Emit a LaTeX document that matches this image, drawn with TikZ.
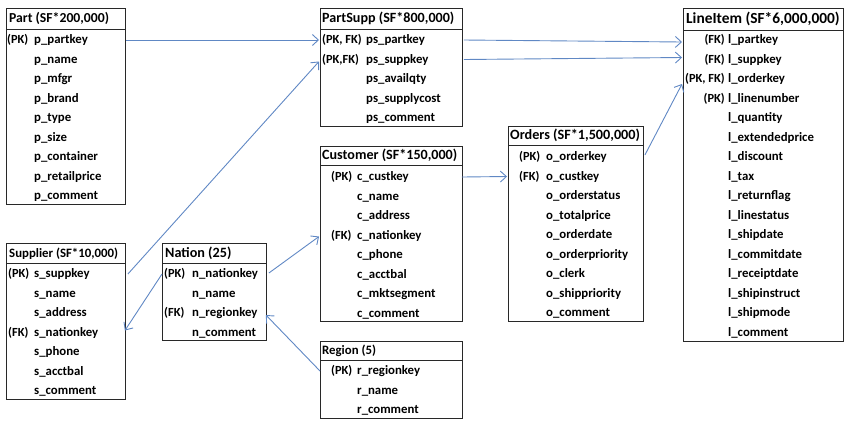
\documentclass[tikz,border=0pt]{standalone}
\usepackage{fontspec}
\setmainfont{Carlito}
\usetikzlibrary{arrows.meta}
\definecolor{linkblue}{RGB}{96,136,196}
\definecolor{boxline}{RGB}{40,40,40}
\tikzset{
  tbl/.style={draw=boxline, line width=0.9pt, inner sep=0pt, anchor=north west, fill=white},
  hdr/.style={draw=boxline, line width=0.9pt},
  ttl/.style={anchor=west, inner sep=0pt, text height=10pt, text depth=2pt},
  fld/.style={anchor=west, inner sep=0pt, text height=9.5pt, text depth=2pt, font=\bfseries\fontsize{12.8}{14}\selectfont},
  key/.style={anchor=west, inner sep=0pt, text height=9.5pt, text depth=2pt, font=\bfseries\fontsize{12.4}{14}\selectfont},
  lnk/.style={draw=linkblue, line width=0.9pt, -{Straight Barb[length=6pt,width=11pt,line width=0.9pt]}}
}
\begin{document}
\begin{tikzpicture}[x=1pt,y=-1pt]
\useasboundingbox (0,0) rectangle (850,424);

% ---------- Part ----------
\node[tbl, minimum width=119pt, minimum height=196pt] (part) at (6,8) {};
\draw[hdr] ([yshift=-21pt]part.north west) -- ([yshift=-21pt]part.north east);
\node[ttl, font=\bfseries\fontsize{13.7}{15}\selectfont] (partT) at (9,18.5) {Part (SF*200,000)};
\node[key] (paK0) at (7,40) {(PK)};
\foreach \f [count=\i from 0] in {p\_partkey,p\_name,p\_mfgr,p\_brand,p\_type,p\_size,p\_container,p\_retailprice,p\_comment}
  \node[fld] (pa\i) at (34,{40+19.5*\i}) {\f};

% ---------- PartSupp ----------
\node[tbl, minimum width=142pt, minimum height=118pt] (partsupp) at (320,8) {};
\draw[hdr] ([yshift=-21pt]partsupp.north west) -- ([yshift=-21pt]partsupp.north east);
\node[ttl, font=\bfseries\fontsize{14.1}{16}\selectfont] (partsuppT) at (322,18.5) {PartSupp (SF*800,000)};
\node[key] (psK0) at (322,40) {(PK, FK)};
\node[key] (psK1) at (322,59.5) {(PK,FK)};
\foreach \f [count=\i from 0] in {ps\_partkey,ps\_suppkey,ps\_availqty,ps\_supplycost,ps\_comment}
  \node[fld] (ps\i) at (366,{40+19.5*\i}) {\f};

% ---------- LineItem ----------
\node[tbl, minimum width=160pt, minimum height=333pt] (lineitem) at (683,8) {};
\draw[hdr] ([yshift=-22pt]lineitem.north west) -- ([yshift=-22pt]lineitem.north east);
\node[ttl, font=\bfseries\fontsize{15.4}{17}\selectfont] (lineitemT) at (686,19) {LineItem (SF*6,000,000)};
\foreach \f [count=\i from 0] in {l\_partkey,l\_suppkey,l\_orderkey,l\_linenumber,l\_quantity,l\_extendedprice,l\_discount,l\_tax,l\_returnflag,l\_linestatus,l\_shipdate,l\_commitdate,l\_receiptdate,l\_shipinstruct,l\_shipmode,l\_comment}
  \node[fld] (li\i) at (728,{40+19.5*\i}) {\f};
\node[key, anchor=east] (liK0) at (725,40) {(FK)};
\node[key, anchor=east] (liK1) at (725,59.5) {(FK)};
\node[key, anchor=east] (liK2) at (725,79) {(PK, FK)};
\node[key, anchor=east] (liK3) at (725,98.5) {(PK)};

% ---------- Orders ----------
\node[tbl, minimum width=135pt, minimum height=195pt] (orders) at (508,126) {};
\draw[hdr] ([yshift=-19pt]orders.north west) -- ([yshift=-19pt]orders.north east);
\node[ttl, font=\bfseries\fontsize{14.2}{16}\selectfont] (ordersT) at (510,135.5) {Orders (SF*1,500,000)};
\node[key] (oK0) at (519,157) {(PK)};
\node[key] (oK1) at (519,176.5) {(FK)};
\foreach \f [count=\i from 0] in {o\_orderkey,o\_custkey,o\_orderstatus,o\_totalprice,o\_orderdate,o\_orderpriority,o\_clerk,o\_shippriority,o\_comment}
  \node[fld] (o\i) at (546,{157+19.5*\i}) {\f};

% ---------- Customer ----------
\node[tbl, minimum width=142pt, minimum height=175pt] (customer) at (320,146) {};
\draw[hdr] ([yshift=-19pt]customer.north west) -- ([yshift=-19pt]customer.north east);
\node[ttl, font=\bfseries\fontsize{14.1}{16}\selectfont] (customerT) at (322,155.5) {Customer (SF*150,000)};
\node[key] (cK0) at (331,177) {(PK)};
\node[key] (cK3) at (331,235.5) {(FK)};
\foreach \f [count=\i from 0] in {c\_custkey,c\_name,c\_address,c\_nationkey,c\_phone,c\_acctbal,c\_mktsegment,c\_comment}
  \node[fld] (c\i) at (357,{177+19.5*\i}) {\f};

% ---------- Region ----------
\node[tbl, minimum width=142pt, minimum height=77pt] (region) at (320,341) {};
\draw[hdr] ([yshift=-19pt]region.north west) -- ([yshift=-19pt]region.north east);
\node[ttl, font=\bfseries\fontsize{12.8}{15}\selectfont] (regionT) at (322,350.5) {Region (5)};
\node[key] (rK0) at (331,371) {(PK)};
\foreach \f [count=\i from 0] in {r\_regionkey,r\_name,r\_comment}
  \node[fld] (r\i) at (357,{371+19.5*\i}) {\f};

% ---------- Supplier ----------
\node[tbl, minimum width=119pt, minimum height=156pt] (supplier) at (6,243) {};
\draw[hdr] ([yshift=-20pt]supplier.north west) -- ([yshift=-20pt]supplier.north east);
\node[ttl, font=\bfseries\fontsize{12.8}{15}\selectfont] (supplierT) at (9,253) {Supplier (SF*10,000)};
\node[key] (sK0) at (8,274) {(PK)};
\node[key] (sK3) at (8,332.5) {(FK)};
\foreach \f [count=\i from 0] in {s\_suppkey,s\_name,s\_address,s\_nationkey,s\_phone,s\_acctbal,s\_comment}
  \node[fld] (s\i) at (34,{274+19.5*\i}) {\f};

% ---------- Nation ----------
\node[tbl, minimum width=104pt, minimum height=97pt] (nation) at (162,243) {};
\draw[hdr] ([yshift=-20pt]nation.north west) -- ([yshift=-20pt]nation.north east);
\node[ttl, font=\bfseries\fontsize{14.2}{16}\selectfont] (nationT) at (165,253) {Nation (25)};
\node[key] (nK0) at (164,274) {(PK)};
\node[key] (nK2) at (164,313) {(FK)};
\foreach \f [count=\i from 0] in {n\_nationkey,n\_name,n\_regionkey,n\_comment}
  \node[fld] (n\i) at (192,{274+19.5*\i}) {\f};

% ---------- Connectors ----------
\draw[lnk] (part.east |- pa0.west) -- ([xshift=-1pt]partsupp.west |- ps0.west);
\draw[lnk] ([xshift=2pt]supplier.east |- s0.west) -- ([xshift=-1pt,yshift=-2pt]partsupp.west |- ps1.west);
\draw[lnk] ([xshift=1pt]partsupp.east |- ps0.west) -- ([xshift=-1pt,yshift=-2pt]lineitem.west |- li0.west);
\draw[lnk] ([xshift=1pt]partsupp.east |- ps1.west) -- ([xshift=-1pt,yshift=2pt]lineitem.west |- li1.west);
\draw[lnk] ([xshift=1pt,yshift=2pt]orders.east |- o0.west) -- ([xshift=-1pt,yshift=-5pt]lineitem.west |- li2.west);
\draw[lnk] ([xshift=-1pt]customer.east |- c0.west) -- ([xshift=-1pt]orders.west |- o1.west);
\draw[lnk] ([xshift=2pt,yshift=1pt]nation.east |- n0.west) -- ([xshift=-1pt,yshift=-1pt]customer.west |- c3.west);
\draw[lnk] (nation.west |- n0.west) -- ([xshift=-1pt,yshift=2pt]supplier.east |- s3.west);
\draw[lnk] (region.west |- r0.west) -- ([xshift=-1pt,yshift=-2pt]nation.east |- n2.west);
\end{tikzpicture}
\end{document}
